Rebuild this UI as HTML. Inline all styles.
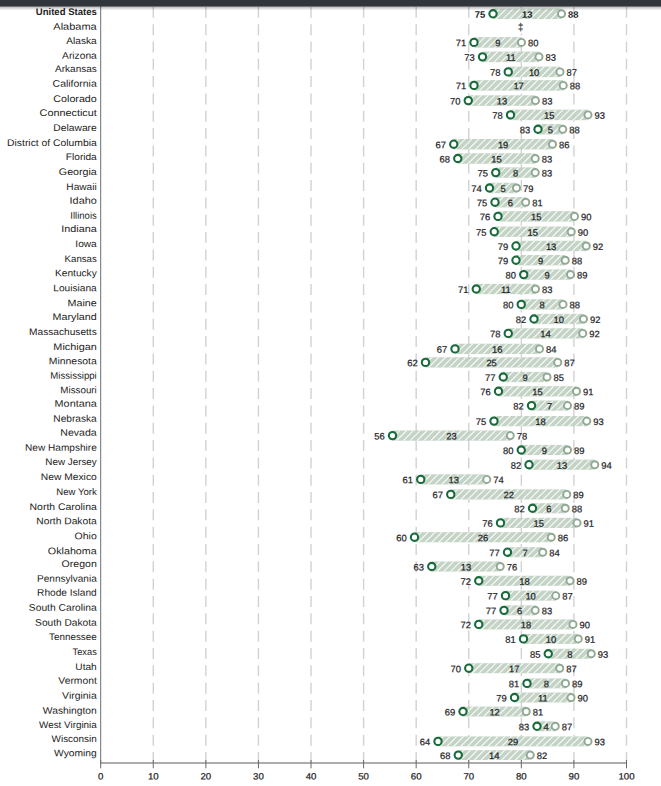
<!DOCTYPE html>
<html><head><meta charset="utf-8"><title>chart</title>
<style>
html,body{margin:0;padding:0;background:#fff;}
body{width:661px;height:786px;overflow:hidden;position:relative;font-family:"Liberation Sans",sans-serif;}
svg{position:absolute;left:0;top:0;display:block;}
text{font-family:"Liberation Sans",sans-serif;}
</style></head><body>
<svg width="661" height="786" viewBox="0 0 661 786">
<defs>
<linearGradient id="sh" x1="0" y1="0" x2="0" y2="1"><stop offset="0" stop-color="#000" stop-opacity="0.30"/><stop offset="1" stop-color="#000" stop-opacity="0"/></linearGradient>
</defs>
<rect width="661" height="786" fill="#fff"/>

<line x1="153.28" y1="6.8" x2="153.28" y2="762.6" stroke="#d2d2d2" stroke-width="1.4" stroke-dasharray="11 6.33"/>
<line x1="205.86" y1="6.8" x2="205.86" y2="762.6" stroke="#d2d2d2" stroke-width="1.4" stroke-dasharray="11 6.33"/>
<line x1="258.44" y1="6.8" x2="258.44" y2="762.6" stroke="#d2d2d2" stroke-width="1.4" stroke-dasharray="11 6.33"/>
<line x1="311.02" y1="6.8" x2="311.02" y2="762.6" stroke="#d2d2d2" stroke-width="1.4" stroke-dasharray="11 6.33"/>
<line x1="363.60" y1="6.8" x2="363.60" y2="762.6" stroke="#d2d2d2" stroke-width="1.4" stroke-dasharray="11 6.33"/>
<line x1="416.18" y1="6.8" x2="416.18" y2="762.6" stroke="#d2d2d2" stroke-width="1.4" stroke-dasharray="11 6.33"/>
<line x1="468.76" y1="6.8" x2="468.76" y2="762.6" stroke="#d2d2d2" stroke-width="1.4" stroke-dasharray="11 6.33"/>
<line x1="521.34" y1="6.8" x2="521.34" y2="762.6" stroke="#d2d2d2" stroke-width="1.4" stroke-dasharray="11 6.33"/>
<line x1="573.92" y1="6.8" x2="573.92" y2="762.6" stroke="#d2d2d2" stroke-width="1.4" stroke-dasharray="11 6.33"/>
<line x1="626.50" y1="6.8" x2="626.50" y2="762.6" stroke="#d2d2d2" stroke-width="1.4" stroke-dasharray="11 6.33"/>
<clipPath id="bc"><rect x="493.00" y="8.50" width="68.50" height="10.6"/><rect x="474.00" y="37.11" width="47.50" height="10.57"/><rect x="482.50" y="51.57" width="56.50" height="10.56"/><rect x="508.25" y="66.62" width="51.75" height="10.55"/><rect x="474.00" y="80.14" width="89.25" height="10.53"/><rect x="468.25" y="95.34" width="67.25" height="10.52"/><rect x="510.50" y="109.65" width="77.50" height="10.5"/><rect x="538.00" y="124.00" width="24.75" height="10.49"/><rect x="453.75" y="138.96" width="98.75" height="10.48"/><rect x="457.75" y="153.27" width="77.50" height="10.46"/><rect x="495.75" y="167.38" width="39.50" height="10.45"/><rect x="489.50" y="182.78" width="27.00" height="10.44"/><rect x="495.00" y="196.99" width="30.75" height="10.42"/><rect x="498.00" y="211.19" width="76.50" height="10.41"/><rect x="494.25" y="226.50" width="77.00" height="10.39"/><rect x="516.00" y="240.76" width="70.25" height="10.38"/><rect x="516.00" y="255.01" width="49.25" height="10.37"/><rect x="523.75" y="269.43" width="46.75" height="10.35"/><rect x="476.25" y="283.83" width="59.25" height="10.34"/><rect x="521.25" y="299.23" width="41.75" height="10.33"/><rect x="534.00" y="313.85" width="49.50" height="10.31"/><rect x="508.25" y="328.25" width="74.50" height="10.3"/><rect x="455.00" y="343.76" width="84.50" height="10.28"/><rect x="425.50" y="357.26" width="132.25" height="10.27"/><rect x="503.25" y="371.87" width="43.75" height="10.26"/><rect x="498.50" y="386.18" width="78.00" height="10.24"/><rect x="531.50" y="400.49" width="36.00" height="10.23"/><rect x="494.00" y="415.99" width="92.75" height="10.22"/><rect x="392.50" y="430.50" width="117.75" height="10.2"/><rect x="521.25" y="444.90" width="46.25" height="10.19"/><rect x="529.00" y="459.62" width="65.75" height="10.17"/><rect x="420.75" y="474.32" width="66.00" height="10.16"/><rect x="450.75" y="489.32" width="116.00" height="10.15"/><rect x="532.50" y="503.19" width="32.75" height="10.13"/><rect x="500.50" y="517.84" width="76.50" height="10.12"/><rect x="414.50" y="532.15" width="136.75" height="10.11"/><rect x="507.50" y="547.16" width="35.25" height="10.09"/><rect x="431.75" y="561.46" width="68.50" height="10.08"/><rect x="478.75" y="575.77" width="91.25" height="10.06"/><rect x="505.50" y="590.62" width="50.25" height="10.05"/><rect x="504.00" y="605.33" width="31.25" height="10.04"/><rect x="478.75" y="619.39" width="94.25" height="10.02"/><rect x="523.50" y="633.89" width="54.75" height="10.01"/><rect x="548.25" y="648.75" width="43.00" height="10.0"/><rect x="468.75" y="663.21" width="91.00" height="9.98"/><rect x="527.00" y="678.41" width="38.50" height="9.97"/><rect x="514.50" y="692.52" width="56.50" height="9.95"/><rect x="463.00" y="706.58" width="63.25" height="9.94"/><rect x="537.00" y="721.33" width="18.25" height="9.93"/><rect x="438.00" y="736.44" width="150.00" height="9.91"/><rect x="458.25" y="750.15" width="72.00" height="9.9"/></clipPath>
<g opacity="0.95">
<rect x="493.00" y="8.50" width="68.50" height="10.6" fill="#c1d1c3"/>
<rect x="474.00" y="37.11" width="47.50" height="10.57" fill="#c1d1c3"/>
<rect x="482.50" y="51.57" width="56.50" height="10.56" fill="#c1d1c3"/>
<rect x="508.25" y="66.62" width="51.75" height="10.55" fill="#c1d1c3"/>
<rect x="474.00" y="80.14" width="89.25" height="10.53" fill="#c1d1c3"/>
<rect x="468.25" y="95.34" width="67.25" height="10.52" fill="#c1d1c3"/>
<rect x="510.50" y="109.65" width="77.50" height="10.5" fill="#c1d1c3"/>
<rect x="538.00" y="124.00" width="24.75" height="10.49" fill="#c1d1c3"/>
<rect x="453.75" y="138.96" width="98.75" height="10.48" fill="#c1d1c3"/>
<rect x="457.75" y="153.27" width="77.50" height="10.46" fill="#c1d1c3"/>
<rect x="495.75" y="167.38" width="39.50" height="10.45" fill="#c1d1c3"/>
<rect x="489.50" y="182.78" width="27.00" height="10.44" fill="#c1d1c3"/>
<rect x="495.00" y="196.99" width="30.75" height="10.42" fill="#c1d1c3"/>
<rect x="498.00" y="211.19" width="76.50" height="10.41" fill="#c1d1c3"/>
<rect x="494.25" y="226.50" width="77.00" height="10.39" fill="#c1d1c3"/>
<rect x="516.00" y="240.76" width="70.25" height="10.38" fill="#c1d1c3"/>
<rect x="516.00" y="255.01" width="49.25" height="10.37" fill="#c1d1c3"/>
<rect x="523.75" y="269.43" width="46.75" height="10.35" fill="#c1d1c3"/>
<rect x="476.25" y="283.83" width="59.25" height="10.34" fill="#c1d1c3"/>
<rect x="521.25" y="299.23" width="41.75" height="10.33" fill="#c1d1c3"/>
<rect x="534.00" y="313.85" width="49.50" height="10.31" fill="#c1d1c3"/>
<rect x="508.25" y="328.25" width="74.50" height="10.3" fill="#c1d1c3"/>
<rect x="455.00" y="343.76" width="84.50" height="10.28" fill="#c1d1c3"/>
<rect x="425.50" y="357.26" width="132.25" height="10.27" fill="#c1d1c3"/>
<rect x="503.25" y="371.87" width="43.75" height="10.26" fill="#c1d1c3"/>
<rect x="498.50" y="386.18" width="78.00" height="10.24" fill="#c1d1c3"/>
<rect x="531.50" y="400.49" width="36.00" height="10.23" fill="#c1d1c3"/>
<rect x="494.00" y="415.99" width="92.75" height="10.22" fill="#c1d1c3"/>
<rect x="392.50" y="430.50" width="117.75" height="10.2" fill="#c1d1c3"/>
<rect x="521.25" y="444.90" width="46.25" height="10.19" fill="#c1d1c3"/>
<rect x="529.00" y="459.62" width="65.75" height="10.17" fill="#c1d1c3"/>
<rect x="420.75" y="474.32" width="66.00" height="10.16" fill="#c1d1c3"/>
<rect x="450.75" y="489.32" width="116.00" height="10.15" fill="#c1d1c3"/>
<rect x="532.50" y="503.19" width="32.75" height="10.13" fill="#c1d1c3"/>
<rect x="500.50" y="517.84" width="76.50" height="10.12" fill="#c1d1c3"/>
<rect x="414.50" y="532.15" width="136.75" height="10.11" fill="#c1d1c3"/>
<rect x="507.50" y="547.16" width="35.25" height="10.09" fill="#c1d1c3"/>
<rect x="431.75" y="561.46" width="68.50" height="10.08" fill="#c1d1c3"/>
<rect x="478.75" y="575.77" width="91.25" height="10.06" fill="#c1d1c3"/>
<rect x="505.50" y="590.62" width="50.25" height="10.05" fill="#c1d1c3"/>
<rect x="504.00" y="605.33" width="31.25" height="10.04" fill="#c1d1c3"/>
<rect x="478.75" y="619.39" width="94.25" height="10.02" fill="#c1d1c3"/>
<rect x="523.50" y="633.89" width="54.75" height="10.01" fill="#c1d1c3"/>
<rect x="548.25" y="648.75" width="43.00" height="10.0" fill="#c1d1c3"/>
<rect x="468.75" y="663.21" width="91.00" height="9.98" fill="#c1d1c3"/>
<rect x="527.00" y="678.41" width="38.50" height="9.97" fill="#c1d1c3"/>
<rect x="514.50" y="692.52" width="56.50" height="9.95" fill="#c1d1c3"/>
<rect x="463.00" y="706.58" width="63.25" height="9.94" fill="#c1d1c3"/>
<rect x="537.00" y="721.33" width="18.25" height="9.93" fill="#c1d1c3"/>
<rect x="438.00" y="736.44" width="150.00" height="9.91" fill="#c1d1c3"/>
<rect x="458.25" y="750.15" width="72.00" height="9.9" fill="#c1d1c3"/>
<path clip-path="url(#bc)" d="M385.00,0L-385.00,770M391.85,0L-378.15,770M398.70,0L-371.30,770M405.55,0L-364.45,770M412.40,0L-357.60,770M419.25,0L-350.75,770M426.10,0L-343.90,770M432.95,0L-337.05,770M439.80,0L-330.20,770M446.65,0L-323.35,770M453.50,0L-316.50,770M460.35,0L-309.65,770M467.20,0L-302.80,770M474.05,0L-295.95,770M480.90,0L-289.10,770M487.75,0L-282.25,770M494.60,0L-275.40,770M501.45,0L-268.55,770M508.30,0L-261.70,770M515.15,0L-254.85,770M522.00,0L-248.00,770M528.85,0L-241.15,770M535.70,0L-234.30,770M542.55,0L-227.45,770M549.40,0L-220.60,770M556.25,0L-213.75,770M563.10,0L-206.90,770M569.95,0L-200.05,770M576.80,0L-193.20,770M583.65,0L-186.35,770M590.50,0L-179.50,770M597.35,0L-172.65,770M604.20,0L-165.80,770M611.05,0L-158.95,770M617.90,0L-152.10,770M624.75,0L-145.25,770M631.60,0L-138.40,770M638.45,0L-131.55,770M645.30,0L-124.70,770M652.15,0L-117.85,770M659.00,0L-111.00,770M665.85,0L-104.15,770M672.70,0L-97.30,770M679.55,0L-90.45,770M686.40,0L-83.60,770M693.25,0L-76.75,770M700.10,0L-69.90,770M706.95,0L-63.05,770M713.80,0L-56.20,770M720.65,0L-49.35,770M727.50,0L-42.50,770M734.35,0L-35.65,770M741.20,0L-28.80,770M748.05,0L-21.95,770M754.90,0L-15.10,770M761.75,0L-8.25,770M768.60,0L-1.40,770M775.45,0L5.45,770M782.30,0L12.30,770M789.15,0L19.15,770M796.00,0L26.00,770M802.85,0L32.85,770M809.70,0L39.70,770M816.55,0L46.55,770M823.40,0L53.40,770M830.25,0L60.25,770M837.10,0L67.10,770M843.95,0L73.95,770M850.80,0L80.80,770M857.65,0L87.65,770M864.50,0L94.50,770M871.35,0L101.35,770M878.20,0L108.20,770M885.05,0L115.05,770M891.90,0L121.90,770M898.75,0L128.75,770M905.60,0L135.60,770M912.45,0L142.45,770M919.30,0L149.30,770M926.15,0L156.15,770M933.00,0L163.00,770M939.85,0L169.85,770M946.70,0L176.70,770M953.55,0L183.55,770M960.40,0L190.40,770M967.25,0L197.25,770M974.10,0L204.10,770M980.95,0L210.95,770M987.80,0L217.80,770M994.65,0L224.65,770M1001.50,0L231.50,770M1008.35,0L238.35,770M1015.20,0L245.20,770M1022.05,0L252.05,770M1028.90,0L258.90,770M1035.75,0L265.75,770M1042.60,0L272.60,770M1049.45,0L279.45,770M1056.30,0L286.30,770M1063.15,0L293.15,770M1070.00,0L300.00,770M1076.85,0L306.85,770M1083.70,0L313.70,770M1090.55,0L320.55,770M1097.40,0L327.40,770M1104.25,0L334.25,770M1111.10,0L341.10,770M1117.95,0L347.95,770M1124.80,0L354.80,770M1131.65,0L361.65,770M1138.50,0L368.50,770M1145.35,0L375.35,770M1152.20,0L382.20,770M1159.05,0L389.05,770M1165.90,0L395.90,770M1172.75,0L402.75,770M1179.60,0L409.60,770M1186.45,0L416.45,770M1193.30,0L423.30,770M1200.15,0L430.15,770M1207.00,0L437.00,770M1213.85,0L443.85,770M1220.70,0L450.70,770M1227.55,0L457.55,770M1234.40,0L464.40,770M1241.25,0L471.25,770M1248.10,0L478.10,770M1254.95,0L484.95,770M1261.80,0L491.80,770M1268.65,0L498.65,770M1275.50,0L505.50,770M1282.35,0L512.35,770M1289.20,0L519.20,770M1296.05,0L526.05,770M1302.90,0L532.90,770M1309.75,0L539.75,770M1316.60,0L546.60,770M1323.45,0L553.45,770M1330.30,0L560.30,770M1337.15,0L567.15,770M1344.00,0L574.00,770M1350.85,0L580.85,770M1357.70,0L587.70,770M1364.55,0L594.55,770" stroke="#f8fbf8" stroke-width="1.15" fill="none"/>
</g>
<text transform="translate(35.85,15.00) rotate(0.05)" font-size="9.6" fill="#222" textLength="60.90" lengthAdjust="spacingAndGlyphs" font-weight="bold">United States</text>
<circle cx="561.50" cy="13.80" r="3.55" fill="#fdfefd" stroke="#90a994" stroke-width="1.95"/>
<circle cx="493.00" cy="13.80" r="3.65" fill="#fff" stroke="#176a3a" stroke-width="2.1"/>
<text transform="translate(485.10,17.75) scale(1.0,1) rotate(0.05)" font-size="9.4" text-anchor="end" fill="#1d1d26" stroke="#1d1d26" stroke-width="0" font-weight="bold">75</text>
<text transform="translate(568.10,17.75) scale(1.0,1) rotate(0.05)" font-size="9.4" text-anchor="start" fill="#1d1d26" stroke="#1d1d26" stroke-width="0" font-weight="bold">88</text>
<text transform="translate(527.25,17.75) scale(1.0,1) rotate(0.05)" font-size="9.4" text-anchor="middle" fill="#1d1d26" stroke="#1d1d26" stroke-width="0" font-weight="bold">13</text>
<text transform="translate(53.35,29.70) rotate(0.05)" font-size="9.6" fill="#222" textLength="43.40" lengthAdjust="spacingAndGlyphs">Alabama</text>
<rect x="518.34" y="21" width="6" height="12.6" fill="#fff"/>
<text transform="translate(520.74,30.40) scale(0.9,1) rotate(0.05)" font-size="10.5" text-anchor="middle" fill="#3a3a3a" stroke="#3a3a3a" stroke-width="0.22">‡</text>
<text transform="translate(66.35,44.00) rotate(0.05)" font-size="9.6" fill="#222" textLength="30.40" lengthAdjust="spacingAndGlyphs">Alaska</text>
<circle cx="521.50" cy="42.40" r="3.55" fill="#fdfefd" stroke="#90a994" stroke-width="1.95"/>
<circle cx="474.00" cy="42.40" r="3.65" fill="#fff" stroke="#176a3a" stroke-width="2.1"/>
<text transform="translate(466.10,46.35) scale(1.0,1) rotate(0.05)" font-size="9.4" text-anchor="end" fill="#1d1d26" stroke="#1d1d26" stroke-width="0.22">71</text>
<text transform="translate(528.10,46.35) scale(1.0,1) rotate(0.05)" font-size="9.4" text-anchor="start" fill="#1d1d26" stroke="#1d1d26" stroke-width="0.22">80</text>
<text transform="translate(497.75,46.35) scale(1.0,1) rotate(0.05)" font-size="9.4" text-anchor="middle" fill="#1d1d26" stroke="#1d1d26" stroke-width="0.22">9</text>
<text transform="translate(62.10,58.70) rotate(0.05)" font-size="9.6" fill="#222" textLength="34.65" lengthAdjust="spacingAndGlyphs">Arizona</text>
<circle cx="539.00" cy="56.85" r="3.55" fill="#fdfefd" stroke="#90a994" stroke-width="1.95"/>
<circle cx="482.50" cy="56.85" r="3.65" fill="#fff" stroke="#176a3a" stroke-width="2.1"/>
<text transform="translate(474.60,60.80) scale(1.0,1) rotate(0.05)" font-size="9.4" text-anchor="end" fill="#1d1d26" stroke="#1d1d26" stroke-width="0.22">73</text>
<text transform="translate(545.60,60.80) scale(1.0,1) rotate(0.05)" font-size="9.4" text-anchor="start" fill="#1d1d26" stroke="#1d1d26" stroke-width="0.22">83</text>
<text transform="translate(510.75,60.80) scale(1.0,1) rotate(0.05)" font-size="9.4" text-anchor="middle" fill="#1d1d26" stroke="#1d1d26" stroke-width="0.22">11</text>
<text transform="translate(55.10,72.00) rotate(0.05)" font-size="9.6" fill="#222" textLength="41.65" lengthAdjust="spacingAndGlyphs">Arkansas</text>
<circle cx="560.00" cy="71.90" r="3.55" fill="#fdfefd" stroke="#90a994" stroke-width="1.95"/>
<circle cx="508.25" cy="71.90" r="3.65" fill="#fff" stroke="#176a3a" stroke-width="2.1"/>
<text transform="translate(500.35,75.85) scale(1.0,1) rotate(0.05)" font-size="9.4" text-anchor="end" fill="#1d1d26" stroke="#1d1d26" stroke-width="0.22">78</text>
<text transform="translate(566.60,75.85) scale(1.0,1) rotate(0.05)" font-size="9.4" text-anchor="start" fill="#1d1d26" stroke="#1d1d26" stroke-width="0.22">87</text>
<text transform="translate(534.12,75.85) scale(1.0,1) rotate(0.05)" font-size="9.4" text-anchor="middle" fill="#1d1d26" stroke="#1d1d26" stroke-width="0.22">10</text>
<text transform="translate(52.60,86.70) rotate(0.05)" font-size="9.6" fill="#222" textLength="44.15" lengthAdjust="spacingAndGlyphs">California</text>
<circle cx="563.25" cy="85.40" r="3.55" fill="#fdfefd" stroke="#90a994" stroke-width="1.95"/>
<circle cx="474.00" cy="85.40" r="3.65" fill="#fff" stroke="#176a3a" stroke-width="2.1"/>
<text transform="translate(466.10,89.35) scale(1.0,1) rotate(0.05)" font-size="9.4" text-anchor="end" fill="#1d1d26" stroke="#1d1d26" stroke-width="0.22">71</text>
<text transform="translate(569.85,89.35) scale(1.0,1) rotate(0.05)" font-size="9.4" text-anchor="start" fill="#1d1d26" stroke="#1d1d26" stroke-width="0.22">88</text>
<text transform="translate(518.62,89.35) scale(1.0,1) rotate(0.05)" font-size="9.4" text-anchor="middle" fill="#1d1d26" stroke="#1d1d26" stroke-width="0.22">17</text>
<text transform="translate(53.35,102.00) rotate(0.05)" font-size="9.6" fill="#222" textLength="43.40" lengthAdjust="spacingAndGlyphs">Colorado</text>
<circle cx="535.50" cy="100.60" r="3.55" fill="#fdfefd" stroke="#90a994" stroke-width="1.95"/>
<circle cx="468.25" cy="100.60" r="3.65" fill="#fff" stroke="#176a3a" stroke-width="2.1"/>
<text transform="translate(460.35,104.55) scale(1.0,1) rotate(0.05)" font-size="9.4" text-anchor="end" fill="#1d1d26" stroke="#1d1d26" stroke-width="0.22">70</text>
<text transform="translate(542.10,104.55) scale(1.0,1) rotate(0.05)" font-size="9.4" text-anchor="start" fill="#1d1d26" stroke="#1d1d26" stroke-width="0.22">83</text>
<text transform="translate(501.88,104.55) scale(1.0,1) rotate(0.05)" font-size="9.4" text-anchor="middle" fill="#1d1d26" stroke="#1d1d26" stroke-width="0.22">13</text>
<text transform="translate(39.60,116.00) rotate(0.05)" font-size="9.6" fill="#222" textLength="57.15" lengthAdjust="spacingAndGlyphs">Connecticut</text>
<circle cx="588.00" cy="114.90" r="3.55" fill="#fdfefd" stroke="#90a994" stroke-width="1.95"/>
<circle cx="510.50" cy="114.90" r="3.65" fill="#fff" stroke="#176a3a" stroke-width="2.1"/>
<text transform="translate(502.60,118.85) scale(1.0,1) rotate(0.05)" font-size="9.4" text-anchor="end" fill="#1d1d26" stroke="#1d1d26" stroke-width="0.22">78</text>
<text transform="translate(594.60,118.85) scale(1.0,1) rotate(0.05)" font-size="9.4" text-anchor="start" fill="#1d1d26" stroke="#1d1d26" stroke-width="0.22">93</text>
<text transform="translate(549.25,118.85) scale(1.0,1) rotate(0.05)" font-size="9.4" text-anchor="middle" fill="#1d1d26" stroke="#1d1d26" stroke-width="0.22">15</text>
<text transform="translate(53.35,131.00) rotate(0.05)" font-size="9.6" fill="#222" textLength="43.40" lengthAdjust="spacingAndGlyphs">Delaware</text>
<circle cx="562.75" cy="129.25" r="3.55" fill="#fdfefd" stroke="#90a994" stroke-width="1.95"/>
<circle cx="538.00" cy="129.25" r="3.65" fill="#fff" stroke="#176a3a" stroke-width="2.1"/>
<text transform="translate(530.10,133.20) scale(1.0,1) rotate(0.05)" font-size="9.4" text-anchor="end" fill="#1d1d26" stroke="#1d1d26" stroke-width="0.22">83</text>
<text transform="translate(569.35,133.20) scale(1.0,1) rotate(0.05)" font-size="9.4" text-anchor="start" fill="#1d1d26" stroke="#1d1d26" stroke-width="0.22">88</text>
<text transform="translate(550.38,133.20) scale(1.0,1) rotate(0.05)" font-size="9.4" text-anchor="middle" fill="#1d1d26" stroke="#1d1d26" stroke-width="0.22">5</text>
<text transform="translate(7.10,146.00) rotate(0.05)" font-size="9.6" fill="#222" textLength="89.65" lengthAdjust="spacingAndGlyphs">District of Columbia</text>
<circle cx="552.50" cy="144.20" r="3.55" fill="#fdfefd" stroke="#90a994" stroke-width="1.95"/>
<circle cx="453.75" cy="144.20" r="3.65" fill="#fff" stroke="#176a3a" stroke-width="2.1"/>
<text transform="translate(445.85,148.15) scale(1.0,1) rotate(0.05)" font-size="9.4" text-anchor="end" fill="#1d1d26" stroke="#1d1d26" stroke-width="0.22">67</text>
<text transform="translate(559.10,148.15) scale(1.0,1) rotate(0.05)" font-size="9.4" text-anchor="start" fill="#1d1d26" stroke="#1d1d26" stroke-width="0.22">86</text>
<text transform="translate(503.12,148.15) scale(1.0,1) rotate(0.05)" font-size="9.4" text-anchor="middle" fill="#1d1d26" stroke="#1d1d26" stroke-width="0.22">19</text>
<text transform="translate(65.85,160.00) rotate(0.05)" font-size="9.6" fill="#222" textLength="30.90" lengthAdjust="spacingAndGlyphs">Florida</text>
<circle cx="535.25" cy="158.50" r="3.55" fill="#fdfefd" stroke="#90a994" stroke-width="1.95"/>
<circle cx="457.75" cy="158.50" r="3.65" fill="#fff" stroke="#176a3a" stroke-width="2.1"/>
<text transform="translate(449.85,162.45) scale(1.0,1) rotate(0.05)" font-size="9.4" text-anchor="end" fill="#1d1d26" stroke="#1d1d26" stroke-width="0.22">68</text>
<text transform="translate(541.85,162.45) scale(1.0,1) rotate(0.05)" font-size="9.4" text-anchor="start" fill="#1d1d26" stroke="#1d1d26" stroke-width="0.22">83</text>
<text transform="translate(496.50,162.45) scale(1.0,1) rotate(0.05)" font-size="9.4" text-anchor="middle" fill="#1d1d26" stroke="#1d1d26" stroke-width="0.22">15</text>
<text transform="translate(58.85,175.00) rotate(0.05)" font-size="9.6" fill="#222" textLength="37.90" lengthAdjust="spacingAndGlyphs">Georgia</text>
<circle cx="535.25" cy="172.60" r="3.55" fill="#fdfefd" stroke="#90a994" stroke-width="1.95"/>
<circle cx="495.75" cy="172.60" r="3.65" fill="#fff" stroke="#176a3a" stroke-width="2.1"/>
<text transform="translate(487.85,176.55) scale(1.0,1) rotate(0.05)" font-size="9.4" text-anchor="end" fill="#1d1d26" stroke="#1d1d26" stroke-width="0.22">75</text>
<text transform="translate(541.85,176.55) scale(1.0,1) rotate(0.05)" font-size="9.4" text-anchor="start" fill="#1d1d26" stroke="#1d1d26" stroke-width="0.22">83</text>
<text transform="translate(515.50,176.55) scale(1.0,1) rotate(0.05)" font-size="9.4" text-anchor="middle" fill="#1d1d26" stroke="#1d1d26" stroke-width="0.22">8</text>
<text transform="translate(66.35,190.00) rotate(0.05)" font-size="9.6" fill="#222" textLength="30.40" lengthAdjust="spacingAndGlyphs">Hawaii</text>
<circle cx="516.50" cy="188.00" r="3.55" fill="#fdfefd" stroke="#90a994" stroke-width="1.95"/>
<circle cx="489.50" cy="188.00" r="3.65" fill="#fff" stroke="#176a3a" stroke-width="2.1"/>
<text transform="translate(481.60,191.95) scale(1.0,1) rotate(0.05)" font-size="9.4" text-anchor="end" fill="#1d1d26" stroke="#1d1d26" stroke-width="0.22">74</text>
<text transform="translate(523.10,191.95) scale(1.0,1) rotate(0.05)" font-size="9.4" text-anchor="start" fill="#1d1d26" stroke="#1d1d26" stroke-width="0.22">79</text>
<text transform="translate(503.00,191.95) scale(1.0,1) rotate(0.05)" font-size="9.4" text-anchor="middle" fill="#1d1d26" stroke="#1d1d26" stroke-width="0.22">5</text>
<text transform="translate(69.60,203.75) rotate(0.05)" font-size="9.6" fill="#222" textLength="27.15" lengthAdjust="spacingAndGlyphs">Idaho</text>
<circle cx="525.75" cy="202.20" r="3.55" fill="#fdfefd" stroke="#90a994" stroke-width="1.95"/>
<circle cx="495.00" cy="202.20" r="3.65" fill="#fff" stroke="#176a3a" stroke-width="2.1"/>
<text transform="translate(487.10,206.15) scale(1.0,1) rotate(0.05)" font-size="9.4" text-anchor="end" fill="#1d1d26" stroke="#1d1d26" stroke-width="0.22">75</text>
<text transform="translate(532.35,206.15) scale(1.0,1) rotate(0.05)" font-size="9.4" text-anchor="start" fill="#1d1d26" stroke="#1d1d26" stroke-width="0.22">81</text>
<text transform="translate(510.38,206.15) scale(1.0,1) rotate(0.05)" font-size="9.4" text-anchor="middle" fill="#1d1d26" stroke="#1d1d26" stroke-width="0.22">6</text>
<text transform="translate(70.35,218.75) rotate(0.05)" font-size="9.6" fill="#222" textLength="26.40" lengthAdjust="spacingAndGlyphs">Illinois</text>
<circle cx="574.50" cy="216.40" r="3.55" fill="#fdfefd" stroke="#90a994" stroke-width="1.95"/>
<circle cx="498.00" cy="216.40" r="3.65" fill="#fff" stroke="#176a3a" stroke-width="2.1"/>
<text transform="translate(490.10,220.35) scale(1.0,1) rotate(0.05)" font-size="9.4" text-anchor="end" fill="#1d1d26" stroke="#1d1d26" stroke-width="0.22">76</text>
<text transform="translate(581.10,220.35) scale(1.0,1) rotate(0.05)" font-size="9.4" text-anchor="start" fill="#1d1d26" stroke="#1d1d26" stroke-width="0.22">90</text>
<text transform="translate(536.25,220.35) scale(1.0,1) rotate(0.05)" font-size="9.4" text-anchor="middle" fill="#1d1d26" stroke="#1d1d26" stroke-width="0.22">15</text>
<text transform="translate(61.35,232.00) rotate(0.05)" font-size="9.6" fill="#222" textLength="35.40" lengthAdjust="spacingAndGlyphs">Indiana</text>
<circle cx="571.25" cy="231.70" r="3.55" fill="#fdfefd" stroke="#90a994" stroke-width="1.95"/>
<circle cx="494.25" cy="231.70" r="3.65" fill="#fff" stroke="#176a3a" stroke-width="2.1"/>
<text transform="translate(486.35,235.65) scale(1.0,1) rotate(0.05)" font-size="9.4" text-anchor="end" fill="#1d1d26" stroke="#1d1d26" stroke-width="0.22">75</text>
<text transform="translate(577.85,235.65) scale(1.0,1) rotate(0.05)" font-size="9.4" text-anchor="start" fill="#1d1d26" stroke="#1d1d26" stroke-width="0.22">90</text>
<text transform="translate(532.75,235.65) scale(1.0,1) rotate(0.05)" font-size="9.4" text-anchor="middle" fill="#1d1d26" stroke="#1d1d26" stroke-width="0.22">15</text>
<text transform="translate(75.35,247.00) rotate(0.05)" font-size="9.6" fill="#222" textLength="21.40" lengthAdjust="spacingAndGlyphs">Iowa</text>
<circle cx="586.25" cy="245.95" r="3.55" fill="#fdfefd" stroke="#90a994" stroke-width="1.95"/>
<circle cx="516.00" cy="245.95" r="3.65" fill="#fff" stroke="#176a3a" stroke-width="2.1"/>
<text transform="translate(508.10,249.90) scale(1.0,1) rotate(0.05)" font-size="9.4" text-anchor="end" fill="#1d1d26" stroke="#1d1d26" stroke-width="0.22">79</text>
<text transform="translate(592.85,249.90) scale(1.0,1) rotate(0.05)" font-size="9.4" text-anchor="start" fill="#1d1d26" stroke="#1d1d26" stroke-width="0.22">92</text>
<text transform="translate(551.12,249.90) scale(1.0,1) rotate(0.05)" font-size="9.4" text-anchor="middle" fill="#1d1d26" stroke="#1d1d26" stroke-width="0.22">13</text>
<text transform="translate(64.60,262.00) rotate(0.05)" font-size="9.6" fill="#222" textLength="32.15" lengthAdjust="spacingAndGlyphs">Kansas</text>
<circle cx="565.25" cy="260.20" r="3.55" fill="#fdfefd" stroke="#90a994" stroke-width="1.95"/>
<circle cx="516.00" cy="260.20" r="3.65" fill="#fff" stroke="#176a3a" stroke-width="2.1"/>
<text transform="translate(508.10,264.15) scale(1.0,1) rotate(0.05)" font-size="9.4" text-anchor="end" fill="#1d1d26" stroke="#1d1d26" stroke-width="0.22">79</text>
<text transform="translate(571.85,264.15) scale(1.0,1) rotate(0.05)" font-size="9.4" text-anchor="start" fill="#1d1d26" stroke="#1d1d26" stroke-width="0.22">88</text>
<text transform="translate(540.62,264.15) scale(1.0,1) rotate(0.05)" font-size="9.4" text-anchor="middle" fill="#1d1d26" stroke="#1d1d26" stroke-width="0.22">9</text>
<text transform="translate(55.10,276.25) rotate(0.05)" font-size="9.6" fill="#222" textLength="41.65" lengthAdjust="spacingAndGlyphs">Kentucky</text>
<circle cx="570.50" cy="274.60" r="3.55" fill="#fdfefd" stroke="#90a994" stroke-width="1.95"/>
<circle cx="523.75" cy="274.60" r="3.65" fill="#fff" stroke="#176a3a" stroke-width="2.1"/>
<text transform="translate(515.85,278.55) scale(1.0,1) rotate(0.05)" font-size="9.4" text-anchor="end" fill="#1d1d26" stroke="#1d1d26" stroke-width="0.22">80</text>
<text transform="translate(577.10,278.55) scale(1.0,1) rotate(0.05)" font-size="9.4" text-anchor="start" fill="#1d1d26" stroke="#1d1d26" stroke-width="0.22">89</text>
<text transform="translate(547.12,278.55) scale(1.0,1) rotate(0.05)" font-size="9.4" text-anchor="middle" fill="#1d1d26" stroke="#1d1d26" stroke-width="0.22">9</text>
<text transform="translate(53.35,291.25) rotate(0.05)" font-size="9.6" fill="#222" textLength="43.40" lengthAdjust="spacingAndGlyphs">Louisiana</text>
<circle cx="535.50" cy="289.00" r="3.55" fill="#fdfefd" stroke="#90a994" stroke-width="1.95"/>
<circle cx="476.25" cy="289.00" r="3.65" fill="#fff" stroke="#176a3a" stroke-width="2.1"/>
<text transform="translate(468.35,292.95) scale(1.0,1) rotate(0.05)" font-size="9.4" text-anchor="end" fill="#1d1d26" stroke="#1d1d26" stroke-width="0.22">71</text>
<text transform="translate(542.10,292.95) scale(1.0,1) rotate(0.05)" font-size="9.4" text-anchor="start" fill="#1d1d26" stroke="#1d1d26" stroke-width="0.22">83</text>
<text transform="translate(505.88,292.95) scale(1.0,1) rotate(0.05)" font-size="9.4" text-anchor="middle" fill="#1d1d26" stroke="#1d1d26" stroke-width="0.22">11</text>
<text transform="translate(67.60,306.25) rotate(0.05)" font-size="9.6" fill="#222" textLength="29.15" lengthAdjust="spacingAndGlyphs">Maine</text>
<circle cx="563.00" cy="304.40" r="3.55" fill="#fdfefd" stroke="#90a994" stroke-width="1.95"/>
<circle cx="521.25" cy="304.40" r="3.65" fill="#fff" stroke="#176a3a" stroke-width="2.1"/>
<text transform="translate(513.35,308.35) scale(1.0,1) rotate(0.05)" font-size="9.4" text-anchor="end" fill="#1d1d26" stroke="#1d1d26" stroke-width="0.22">80</text>
<text transform="translate(569.60,308.35) scale(1.0,1) rotate(0.05)" font-size="9.4" text-anchor="start" fill="#1d1d26" stroke="#1d1d26" stroke-width="0.22">88</text>
<text transform="translate(542.12,308.35) scale(1.0,1) rotate(0.05)" font-size="9.4" text-anchor="middle" fill="#1d1d26" stroke="#1d1d26" stroke-width="0.22">8</text>
<text transform="translate(52.60,320.00) rotate(0.05)" font-size="9.6" fill="#222" textLength="44.15" lengthAdjust="spacingAndGlyphs">Maryland</text>
<circle cx="583.50" cy="319.00" r="3.55" fill="#fdfefd" stroke="#90a994" stroke-width="1.95"/>
<circle cx="534.00" cy="319.00" r="3.65" fill="#fff" stroke="#176a3a" stroke-width="2.1"/>
<text transform="translate(526.10,322.95) scale(1.0,1) rotate(0.05)" font-size="9.4" text-anchor="end" fill="#1d1d26" stroke="#1d1d26" stroke-width="0.22">82</text>
<text transform="translate(590.10,322.95) scale(1.0,1) rotate(0.05)" font-size="9.4" text-anchor="start" fill="#1d1d26" stroke="#1d1d26" stroke-width="0.22">92</text>
<text transform="translate(558.75,322.95) scale(1.0,1) rotate(0.05)" font-size="9.4" text-anchor="middle" fill="#1d1d26" stroke="#1d1d26" stroke-width="0.22">10</text>
<text transform="translate(29.10,335.00) rotate(0.05)" font-size="9.6" fill="#222" textLength="67.65" lengthAdjust="spacingAndGlyphs">Massachusetts</text>
<circle cx="582.75" cy="333.40" r="3.55" fill="#fdfefd" stroke="#90a994" stroke-width="1.95"/>
<circle cx="508.25" cy="333.40" r="3.65" fill="#fff" stroke="#176a3a" stroke-width="2.1"/>
<text transform="translate(500.35,337.35) scale(1.0,1) rotate(0.05)" font-size="9.4" text-anchor="end" fill="#1d1d26" stroke="#1d1d26" stroke-width="0.22">78</text>
<text transform="translate(589.35,337.35) scale(1.0,1) rotate(0.05)" font-size="9.4" text-anchor="start" fill="#1d1d26" stroke="#1d1d26" stroke-width="0.22">92</text>
<text transform="translate(545.50,337.35) scale(1.0,1) rotate(0.05)" font-size="9.4" text-anchor="middle" fill="#1d1d26" stroke="#1d1d26" stroke-width="0.22">14</text>
<text transform="translate(53.35,350.00) rotate(0.05)" font-size="9.6" fill="#222" textLength="43.40" lengthAdjust="spacingAndGlyphs">Michigan</text>
<circle cx="539.50" cy="348.90" r="3.55" fill="#fdfefd" stroke="#90a994" stroke-width="1.95"/>
<circle cx="455.00" cy="348.90" r="3.65" fill="#fff" stroke="#176a3a" stroke-width="2.1"/>
<text transform="translate(447.10,352.85) scale(1.0,1) rotate(0.05)" font-size="9.4" text-anchor="end" fill="#1d1d26" stroke="#1d1d26" stroke-width="0.22">67</text>
<text transform="translate(546.10,352.85) scale(1.0,1) rotate(0.05)" font-size="9.4" text-anchor="start" fill="#1d1d26" stroke="#1d1d26" stroke-width="0.22">84</text>
<text transform="translate(497.25,352.85) scale(1.0,1) rotate(0.05)" font-size="9.4" text-anchor="middle" fill="#1d1d26" stroke="#1d1d26" stroke-width="0.22">16</text>
<text transform="translate(48.85,364.25) rotate(0.05)" font-size="9.6" fill="#222" textLength="47.90" lengthAdjust="spacingAndGlyphs">Minnesota</text>
<circle cx="557.75" cy="362.40" r="3.55" fill="#fdfefd" stroke="#90a994" stroke-width="1.95"/>
<circle cx="425.50" cy="362.40" r="3.65" fill="#fff" stroke="#176a3a" stroke-width="2.1"/>
<text transform="translate(417.60,366.35) scale(1.0,1) rotate(0.05)" font-size="9.4" text-anchor="end" fill="#1d1d26" stroke="#1d1d26" stroke-width="0.22">62</text>
<text transform="translate(564.35,366.35) scale(1.0,1) rotate(0.05)" font-size="9.4" text-anchor="start" fill="#1d1d26" stroke="#1d1d26" stroke-width="0.22">87</text>
<text transform="translate(491.62,366.35) scale(1.0,1) rotate(0.05)" font-size="9.4" text-anchor="middle" fill="#1d1d26" stroke="#1d1d26" stroke-width="0.22">25</text>
<text transform="translate(50.35,378.75) rotate(0.05)" font-size="9.6" fill="#222" textLength="46.40" lengthAdjust="spacingAndGlyphs">Mississippi</text>
<circle cx="547.00" cy="377.00" r="3.55" fill="#fdfefd" stroke="#90a994" stroke-width="1.95"/>
<circle cx="503.25" cy="377.00" r="3.65" fill="#fff" stroke="#176a3a" stroke-width="2.1"/>
<text transform="translate(495.35,380.95) scale(1.0,1) rotate(0.05)" font-size="9.4" text-anchor="end" fill="#1d1d26" stroke="#1d1d26" stroke-width="0.22">77</text>
<text transform="translate(553.60,380.95) scale(1.0,1) rotate(0.05)" font-size="9.4" text-anchor="start" fill="#1d1d26" stroke="#1d1d26" stroke-width="0.22">85</text>
<text transform="translate(525.12,380.95) scale(1.0,1) rotate(0.05)" font-size="9.4" text-anchor="middle" fill="#1d1d26" stroke="#1d1d26" stroke-width="0.22">9</text>
<text transform="translate(60.35,393.25) rotate(0.05)" font-size="9.6" fill="#222" textLength="36.40" lengthAdjust="spacingAndGlyphs">Missouri</text>
<circle cx="576.50" cy="391.30" r="3.55" fill="#fdfefd" stroke="#90a994" stroke-width="1.95"/>
<circle cx="498.50" cy="391.30" r="3.65" fill="#fff" stroke="#176a3a" stroke-width="2.1"/>
<text transform="translate(490.60,395.25) scale(1.0,1) rotate(0.05)" font-size="9.4" text-anchor="end" fill="#1d1d26" stroke="#1d1d26" stroke-width="0.22">76</text>
<text transform="translate(583.10,395.25) scale(1.0,1) rotate(0.05)" font-size="9.4" text-anchor="start" fill="#1d1d26" stroke="#1d1d26" stroke-width="0.22">91</text>
<text transform="translate(537.50,395.25) scale(1.0,1) rotate(0.05)" font-size="9.4" text-anchor="middle" fill="#1d1d26" stroke="#1d1d26" stroke-width="0.22">15</text>
<text transform="translate(54.60,406.75) rotate(0.05)" font-size="9.6" fill="#222" textLength="42.15" lengthAdjust="spacingAndGlyphs">Montana</text>
<circle cx="567.50" cy="405.60" r="3.55" fill="#fdfefd" stroke="#90a994" stroke-width="1.95"/>
<circle cx="531.50" cy="405.60" r="3.65" fill="#fff" stroke="#176a3a" stroke-width="2.1"/>
<text transform="translate(523.60,409.55) scale(1.0,1) rotate(0.05)" font-size="9.4" text-anchor="end" fill="#1d1d26" stroke="#1d1d26" stroke-width="0.22">82</text>
<text transform="translate(574.10,409.55) scale(1.0,1) rotate(0.05)" font-size="9.4" text-anchor="start" fill="#1d1d26" stroke="#1d1d26" stroke-width="0.22">89</text>
<text transform="translate(549.50,409.55) scale(1.0,1) rotate(0.05)" font-size="9.4" text-anchor="middle" fill="#1d1d26" stroke="#1d1d26" stroke-width="0.22">7</text>
<text transform="translate(53.35,421.75) rotate(0.05)" font-size="9.6" fill="#222" textLength="43.40" lengthAdjust="spacingAndGlyphs">Nebraska</text>
<circle cx="586.75" cy="421.10" r="3.55" fill="#fdfefd" stroke="#90a994" stroke-width="1.95"/>
<circle cx="494.00" cy="421.10" r="3.65" fill="#fff" stroke="#176a3a" stroke-width="2.1"/>
<text transform="translate(486.10,425.05) scale(1.0,1) rotate(0.05)" font-size="9.4" text-anchor="end" fill="#1d1d26" stroke="#1d1d26" stroke-width="0.22">75</text>
<text transform="translate(593.35,425.05) scale(1.0,1) rotate(0.05)" font-size="9.4" text-anchor="start" fill="#1d1d26" stroke="#1d1d26" stroke-width="0.22">93</text>
<text transform="translate(540.38,425.05) scale(1.0,1) rotate(0.05)" font-size="9.4" text-anchor="middle" fill="#1d1d26" stroke="#1d1d26" stroke-width="0.22">18</text>
<text transform="translate(60.35,435.75) rotate(0.05)" font-size="9.6" fill="#222" textLength="36.40" lengthAdjust="spacingAndGlyphs">Nevada</text>
<circle cx="510.25" cy="435.60" r="3.55" fill="#fdfefd" stroke="#90a994" stroke-width="1.95"/>
<circle cx="392.50" cy="435.60" r="3.65" fill="#fff" stroke="#176a3a" stroke-width="2.1"/>
<text transform="translate(384.60,439.55) scale(1.0,1) rotate(0.05)" font-size="9.4" text-anchor="end" fill="#1d1d26" stroke="#1d1d26" stroke-width="0.22">56</text>
<text transform="translate(516.85,439.55) scale(1.0,1) rotate(0.05)" font-size="9.4" text-anchor="start" fill="#1d1d26" stroke="#1d1d26" stroke-width="0.22">78</text>
<text transform="translate(451.38,439.55) scale(1.0,1) rotate(0.05)" font-size="9.4" text-anchor="middle" fill="#1d1d26" stroke="#1d1d26" stroke-width="0.22">23</text>
<text transform="translate(25.10,450.75) rotate(0.05)" font-size="9.6" fill="#222" textLength="71.65" lengthAdjust="spacingAndGlyphs">New Hampshire</text>
<circle cx="567.50" cy="450.00" r="3.55" fill="#fdfefd" stroke="#90a994" stroke-width="1.95"/>
<circle cx="521.25" cy="450.00" r="3.65" fill="#fff" stroke="#176a3a" stroke-width="2.1"/>
<text transform="translate(513.35,453.95) scale(1.0,1) rotate(0.05)" font-size="9.4" text-anchor="end" fill="#1d1d26" stroke="#1d1d26" stroke-width="0.22">80</text>
<text transform="translate(574.10,453.95) scale(1.0,1) rotate(0.05)" font-size="9.4" text-anchor="start" fill="#1d1d26" stroke="#1d1d26" stroke-width="0.22">89</text>
<text transform="translate(544.38,453.95) scale(1.0,1) rotate(0.05)" font-size="9.4" text-anchor="middle" fill="#1d1d26" stroke="#1d1d26" stroke-width="0.22">9</text>
<text transform="translate(45.35,465.00) rotate(0.05)" font-size="9.6" fill="#222" textLength="51.40" lengthAdjust="spacingAndGlyphs">New Jersey</text>
<circle cx="594.75" cy="464.70" r="3.55" fill="#fdfefd" stroke="#90a994" stroke-width="1.95"/>
<circle cx="529.00" cy="464.70" r="3.65" fill="#fff" stroke="#176a3a" stroke-width="2.1"/>
<text transform="translate(521.10,468.65) scale(1.0,1) rotate(0.05)" font-size="9.4" text-anchor="end" fill="#1d1d26" stroke="#1d1d26" stroke-width="0.22">82</text>
<text transform="translate(601.35,468.65) scale(1.0,1) rotate(0.05)" font-size="9.4" text-anchor="start" fill="#1d1d26" stroke="#1d1d26" stroke-width="0.22">94</text>
<text transform="translate(561.88,468.65) scale(1.0,1) rotate(0.05)" font-size="9.4" text-anchor="middle" fill="#1d1d26" stroke="#1d1d26" stroke-width="0.22">13</text>
<text transform="translate(40.85,480.00) rotate(0.05)" font-size="9.6" fill="#222" textLength="55.90" lengthAdjust="spacingAndGlyphs">New Mexico</text>
<circle cx="486.75" cy="479.40" r="3.55" fill="#fdfefd" stroke="#90a994" stroke-width="1.95"/>
<circle cx="420.75" cy="479.40" r="3.65" fill="#fff" stroke="#176a3a" stroke-width="2.1"/>
<text transform="translate(412.85,483.35) scale(1.0,1) rotate(0.05)" font-size="9.4" text-anchor="end" fill="#1d1d26" stroke="#1d1d26" stroke-width="0.22">61</text>
<text transform="translate(493.35,483.35) scale(1.0,1) rotate(0.05)" font-size="9.4" text-anchor="start" fill="#1d1d26" stroke="#1d1d26" stroke-width="0.22">74</text>
<text transform="translate(453.75,483.35) scale(1.0,1) rotate(0.05)" font-size="9.4" text-anchor="middle" fill="#1d1d26" stroke="#1d1d26" stroke-width="0.22">13</text>
<text transform="translate(56.35,495.00) rotate(0.05)" font-size="9.6" fill="#222" textLength="40.40" lengthAdjust="spacingAndGlyphs">New York</text>
<circle cx="566.75" cy="494.40" r="3.55" fill="#fdfefd" stroke="#90a994" stroke-width="1.95"/>
<circle cx="450.75" cy="494.40" r="3.65" fill="#fff" stroke="#176a3a" stroke-width="2.1"/>
<text transform="translate(442.85,498.35) scale(1.0,1) rotate(0.05)" font-size="9.4" text-anchor="end" fill="#1d1d26" stroke="#1d1d26" stroke-width="0.22">67</text>
<text transform="translate(573.35,498.35) scale(1.0,1) rotate(0.05)" font-size="9.4" text-anchor="start" fill="#1d1d26" stroke="#1d1d26" stroke-width="0.22">89</text>
<text transform="translate(508.75,498.35) scale(1.0,1) rotate(0.05)" font-size="9.4" text-anchor="middle" fill="#1d1d26" stroke="#1d1d26" stroke-width="0.22">22</text>
<text transform="translate(29.60,510.00) rotate(0.05)" font-size="9.6" fill="#222" textLength="67.15" lengthAdjust="spacingAndGlyphs">North Carolina</text>
<circle cx="565.25" cy="508.25" r="3.55" fill="#fdfefd" stroke="#90a994" stroke-width="1.95"/>
<circle cx="532.50" cy="508.25" r="3.65" fill="#fff" stroke="#176a3a" stroke-width="2.1"/>
<text transform="translate(524.60,512.20) scale(1.0,1) rotate(0.05)" font-size="9.4" text-anchor="end" fill="#1d1d26" stroke="#1d1d26" stroke-width="0.22">82</text>
<text transform="translate(571.85,512.20) scale(1.0,1) rotate(0.05)" font-size="9.4" text-anchor="start" fill="#1d1d26" stroke="#1d1d26" stroke-width="0.22">88</text>
<text transform="translate(548.88,512.20) scale(1.0,1) rotate(0.05)" font-size="9.4" text-anchor="middle" fill="#1d1d26" stroke="#1d1d26" stroke-width="0.22">6</text>
<text transform="translate(36.35,524.25) rotate(0.05)" font-size="9.6" fill="#222" textLength="60.40" lengthAdjust="spacingAndGlyphs">North Dakota</text>
<circle cx="577.00" cy="522.90" r="3.55" fill="#fdfefd" stroke="#90a994" stroke-width="1.95"/>
<circle cx="500.50" cy="522.90" r="3.65" fill="#fff" stroke="#176a3a" stroke-width="2.1"/>
<text transform="translate(492.60,526.85) scale(1.0,1) rotate(0.05)" font-size="9.4" text-anchor="end" fill="#1d1d26" stroke="#1d1d26" stroke-width="0.22">76</text>
<text transform="translate(583.60,526.85) scale(1.0,1) rotate(0.05)" font-size="9.4" text-anchor="start" fill="#1d1d26" stroke="#1d1d26" stroke-width="0.22">91</text>
<text transform="translate(538.75,526.85) scale(1.0,1) rotate(0.05)" font-size="9.4" text-anchor="middle" fill="#1d1d26" stroke="#1d1d26" stroke-width="0.22">15</text>
<text transform="translate(74.60,539.25) rotate(0.05)" font-size="9.6" fill="#222" textLength="22.15" lengthAdjust="spacingAndGlyphs">Ohio</text>
<circle cx="551.25" cy="537.20" r="3.55" fill="#fdfefd" stroke="#90a994" stroke-width="1.95"/>
<circle cx="414.50" cy="537.20" r="3.65" fill="#fff" stroke="#176a3a" stroke-width="2.1"/>
<text transform="translate(406.60,541.15) scale(1.0,1) rotate(0.05)" font-size="9.4" text-anchor="end" fill="#1d1d26" stroke="#1d1d26" stroke-width="0.22">60</text>
<text transform="translate(557.85,541.15) scale(1.0,1) rotate(0.05)" font-size="9.4" text-anchor="start" fill="#1d1d26" stroke="#1d1d26" stroke-width="0.22">86</text>
<text transform="translate(482.88,541.15) scale(1.0,1) rotate(0.05)" font-size="9.4" text-anchor="middle" fill="#1d1d26" stroke="#1d1d26" stroke-width="0.22">26</text>
<text transform="translate(47.85,554.25) rotate(0.05)" font-size="9.6" fill="#222" textLength="48.90" lengthAdjust="spacingAndGlyphs">Oklahoma</text>
<circle cx="542.75" cy="552.20" r="3.55" fill="#fdfefd" stroke="#90a994" stroke-width="1.95"/>
<circle cx="507.50" cy="552.20" r="3.65" fill="#fff" stroke="#176a3a" stroke-width="2.1"/>
<text transform="translate(499.60,556.15) scale(1.0,1) rotate(0.05)" font-size="9.4" text-anchor="end" fill="#1d1d26" stroke="#1d1d26" stroke-width="0.22">77</text>
<text transform="translate(549.35,556.15) scale(1.0,1) rotate(0.05)" font-size="9.4" text-anchor="start" fill="#1d1d26" stroke="#1d1d26" stroke-width="0.22">84</text>
<text transform="translate(525.12,556.15) scale(1.0,1) rotate(0.05)" font-size="9.4" text-anchor="middle" fill="#1d1d26" stroke="#1d1d26" stroke-width="0.22">7</text>
<text transform="translate(61.60,567.00) rotate(0.05)" font-size="9.6" fill="#222" textLength="35.15" lengthAdjust="spacingAndGlyphs">Oregon</text>
<circle cx="500.25" cy="566.50" r="3.55" fill="#fdfefd" stroke="#90a994" stroke-width="1.95"/>
<circle cx="431.75" cy="566.50" r="3.65" fill="#fff" stroke="#176a3a" stroke-width="2.1"/>
<text transform="translate(423.85,570.45) scale(1.0,1) rotate(0.05)" font-size="9.4" text-anchor="end" fill="#1d1d26" stroke="#1d1d26" stroke-width="0.22">63</text>
<text transform="translate(506.85,570.45) scale(1.0,1) rotate(0.05)" font-size="9.4" text-anchor="start" fill="#1d1d26" stroke="#1d1d26" stroke-width="0.22">76</text>
<text transform="translate(466.00,570.45) scale(1.0,1) rotate(0.05)" font-size="9.4" text-anchor="middle" fill="#1d1d26" stroke="#1d1d26" stroke-width="0.22">13</text>
<text transform="translate(37.10,581.75) rotate(0.05)" font-size="9.6" fill="#222" textLength="59.65" lengthAdjust="spacingAndGlyphs">Pennsylvania</text>
<circle cx="570.00" cy="580.80" r="3.55" fill="#fdfefd" stroke="#90a994" stroke-width="1.95"/>
<circle cx="478.75" cy="580.80" r="3.65" fill="#fff" stroke="#176a3a" stroke-width="2.1"/>
<text transform="translate(470.85,584.75) scale(1.0,1) rotate(0.05)" font-size="9.4" text-anchor="end" fill="#1d1d26" stroke="#1d1d26" stroke-width="0.22">72</text>
<text transform="translate(576.60,584.75) scale(1.0,1) rotate(0.05)" font-size="9.4" text-anchor="start" fill="#1d1d26" stroke="#1d1d26" stroke-width="0.22">89</text>
<text transform="translate(524.38,584.75) scale(1.0,1) rotate(0.05)" font-size="9.4" text-anchor="middle" fill="#1d1d26" stroke="#1d1d26" stroke-width="0.22">18</text>
<text transform="translate(37.10,595.75) rotate(0.05)" font-size="9.6" fill="#222" textLength="59.65" lengthAdjust="spacingAndGlyphs">Rhode Island</text>
<circle cx="555.75" cy="595.65" r="3.55" fill="#fdfefd" stroke="#90a994" stroke-width="1.95"/>
<circle cx="505.50" cy="595.65" r="3.65" fill="#fff" stroke="#176a3a" stroke-width="2.1"/>
<text transform="translate(497.60,599.60) scale(1.0,1) rotate(0.05)" font-size="9.4" text-anchor="end" fill="#1d1d26" stroke="#1d1d26" stroke-width="0.22">77</text>
<text transform="translate(562.35,599.60) scale(1.0,1) rotate(0.05)" font-size="9.4" text-anchor="start" fill="#1d1d26" stroke="#1d1d26" stroke-width="0.22">87</text>
<text transform="translate(530.62,599.60) scale(1.0,1) rotate(0.05)" font-size="9.4" text-anchor="middle" fill="#1d1d26" stroke="#1d1d26" stroke-width="0.22">10</text>
<text transform="translate(28.85,610.75) rotate(0.05)" font-size="9.6" fill="#222" textLength="67.90" lengthAdjust="spacingAndGlyphs">South Carolina</text>
<circle cx="535.25" cy="610.35" r="3.55" fill="#fdfefd" stroke="#90a994" stroke-width="1.95"/>
<circle cx="504.00" cy="610.35" r="3.65" fill="#fff" stroke="#176a3a" stroke-width="2.1"/>
<text transform="translate(496.10,614.30) scale(1.0,1) rotate(0.05)" font-size="9.4" text-anchor="end" fill="#1d1d26" stroke="#1d1d26" stroke-width="0.22">77</text>
<text transform="translate(541.85,614.30) scale(1.0,1) rotate(0.05)" font-size="9.4" text-anchor="start" fill="#1d1d26" stroke="#1d1d26" stroke-width="0.22">83</text>
<text transform="translate(519.62,614.30) scale(1.0,1) rotate(0.05)" font-size="9.4" text-anchor="middle" fill="#1d1d26" stroke="#1d1d26" stroke-width="0.22">6</text>
<text transform="translate(35.10,625.75) rotate(0.05)" font-size="9.6" fill="#222" textLength="61.65" lengthAdjust="spacingAndGlyphs">South Dakota</text>
<circle cx="573.00" cy="624.40" r="3.55" fill="#fdfefd" stroke="#90a994" stroke-width="1.95"/>
<circle cx="478.75" cy="624.40" r="3.65" fill="#fff" stroke="#176a3a" stroke-width="2.1"/>
<text transform="translate(470.85,628.35) scale(1.0,1) rotate(0.05)" font-size="9.4" text-anchor="end" fill="#1d1d26" stroke="#1d1d26" stroke-width="0.22">72</text>
<text transform="translate(579.60,628.35) scale(1.0,1) rotate(0.05)" font-size="9.4" text-anchor="start" fill="#1d1d26" stroke="#1d1d26" stroke-width="0.22">90</text>
<text transform="translate(525.88,628.35) scale(1.0,1) rotate(0.05)" font-size="9.4" text-anchor="middle" fill="#1d1d26" stroke="#1d1d26" stroke-width="0.22">18</text>
<text transform="translate(49.10,640.00) rotate(0.05)" font-size="9.6" fill="#222" textLength="47.65" lengthAdjust="spacingAndGlyphs">Tennessee</text>
<circle cx="578.25" cy="638.90" r="3.55" fill="#fdfefd" stroke="#90a994" stroke-width="1.95"/>
<circle cx="523.50" cy="638.90" r="3.65" fill="#fff" stroke="#176a3a" stroke-width="2.1"/>
<text transform="translate(515.60,642.85) scale(1.0,1) rotate(0.05)" font-size="9.4" text-anchor="end" fill="#1d1d26" stroke="#1d1d26" stroke-width="0.22">81</text>
<text transform="translate(584.85,642.85) scale(1.0,1) rotate(0.05)" font-size="9.4" text-anchor="start" fill="#1d1d26" stroke="#1d1d26" stroke-width="0.22">91</text>
<text transform="translate(550.88,642.85) scale(1.0,1) rotate(0.05)" font-size="9.4" text-anchor="middle" fill="#1d1d26" stroke="#1d1d26" stroke-width="0.22">10</text>
<text transform="translate(72.60,655.00) rotate(0.05)" font-size="9.6" fill="#222" textLength="24.15" lengthAdjust="spacingAndGlyphs">Texas</text>
<circle cx="591.25" cy="653.75" r="3.55" fill="#fdfefd" stroke="#90a994" stroke-width="1.95"/>
<circle cx="548.25" cy="653.75" r="3.65" fill="#fff" stroke="#176a3a" stroke-width="2.1"/>
<text transform="translate(540.35,657.70) scale(1.0,1) rotate(0.05)" font-size="9.4" text-anchor="end" fill="#1d1d26" stroke="#1d1d26" stroke-width="0.22">85</text>
<text transform="translate(597.85,657.70) scale(1.0,1) rotate(0.05)" font-size="9.4" text-anchor="start" fill="#1d1d26" stroke="#1d1d26" stroke-width="0.22">93</text>
<text transform="translate(569.75,657.70) scale(1.0,1) rotate(0.05)" font-size="9.4" text-anchor="middle" fill="#1d1d26" stroke="#1d1d26" stroke-width="0.22">8</text>
<text transform="translate(75.35,670.00) rotate(0.05)" font-size="9.6" fill="#222" textLength="21.40" lengthAdjust="spacingAndGlyphs">Utah</text>
<circle cx="559.75" cy="668.20" r="3.55" fill="#fdfefd" stroke="#90a994" stroke-width="1.95"/>
<circle cx="468.75" cy="668.20" r="3.65" fill="#fff" stroke="#176a3a" stroke-width="2.1"/>
<text transform="translate(460.85,672.15) scale(1.0,1) rotate(0.05)" font-size="9.4" text-anchor="end" fill="#1d1d26" stroke="#1d1d26" stroke-width="0.22">70</text>
<text transform="translate(566.35,672.15) scale(1.0,1) rotate(0.05)" font-size="9.4" text-anchor="start" fill="#1d1d26" stroke="#1d1d26" stroke-width="0.22">87</text>
<text transform="translate(514.25,672.15) scale(1.0,1) rotate(0.05)" font-size="9.4" text-anchor="middle" fill="#1d1d26" stroke="#1d1d26" stroke-width="0.22">17</text>
<text transform="translate(58.35,683.75) rotate(0.05)" font-size="9.6" fill="#222" textLength="38.40" lengthAdjust="spacingAndGlyphs">Vermont</text>
<circle cx="565.50" cy="683.40" r="3.55" fill="#fdfefd" stroke="#90a994" stroke-width="1.95"/>
<circle cx="527.00" cy="683.40" r="3.65" fill="#fff" stroke="#176a3a" stroke-width="2.1"/>
<text transform="translate(519.10,687.35) scale(1.0,1) rotate(0.05)" font-size="9.4" text-anchor="end" fill="#1d1d26" stroke="#1d1d26" stroke-width="0.22">81</text>
<text transform="translate(572.10,687.35) scale(1.0,1) rotate(0.05)" font-size="9.4" text-anchor="start" fill="#1d1d26" stroke="#1d1d26" stroke-width="0.22">89</text>
<text transform="translate(546.25,687.35) scale(1.0,1) rotate(0.05)" font-size="9.4" text-anchor="middle" fill="#1d1d26" stroke="#1d1d26" stroke-width="0.22">8</text>
<text transform="translate(62.10,698.75) rotate(0.05)" font-size="9.6" fill="#222" textLength="34.65" lengthAdjust="spacingAndGlyphs">Virginia</text>
<circle cx="571.00" cy="697.50" r="3.55" fill="#fdfefd" stroke="#90a994" stroke-width="1.95"/>
<circle cx="514.50" cy="697.50" r="3.65" fill="#fff" stroke="#176a3a" stroke-width="2.1"/>
<text transform="translate(506.60,701.45) scale(1.0,1) rotate(0.05)" font-size="9.4" text-anchor="end" fill="#1d1d26" stroke="#1d1d26" stroke-width="0.22">79</text>
<text transform="translate(577.60,701.45) scale(1.0,1) rotate(0.05)" font-size="9.4" text-anchor="start" fill="#1d1d26" stroke="#1d1d26" stroke-width="0.22">90</text>
<text transform="translate(542.75,701.45) scale(1.0,1) rotate(0.05)" font-size="9.4" text-anchor="middle" fill="#1d1d26" stroke="#1d1d26" stroke-width="0.22">11</text>
<text transform="translate(42.85,713.75) rotate(0.05)" font-size="9.6" fill="#222" textLength="53.90" lengthAdjust="spacingAndGlyphs">Washington</text>
<circle cx="526.25" cy="711.55" r="3.55" fill="#fdfefd" stroke="#90a994" stroke-width="1.95"/>
<circle cx="463.00" cy="711.55" r="3.65" fill="#fff" stroke="#176a3a" stroke-width="2.1"/>
<text transform="translate(455.10,715.50) scale(1.0,1) rotate(0.05)" font-size="9.4" text-anchor="end" fill="#1d1d26" stroke="#1d1d26" stroke-width="0.22">69</text>
<text transform="translate(532.85,715.50) scale(1.0,1) rotate(0.05)" font-size="9.4" text-anchor="start" fill="#1d1d26" stroke="#1d1d26" stroke-width="0.22">81</text>
<text transform="translate(494.62,715.50) scale(1.0,1) rotate(0.05)" font-size="9.4" text-anchor="middle" fill="#1d1d26" stroke="#1d1d26" stroke-width="0.22">12</text>
<text transform="translate(39.10,728.00) rotate(0.05)" font-size="9.6" fill="#222" textLength="57.65" lengthAdjust="spacingAndGlyphs">West Virginia</text>
<circle cx="555.25" cy="726.30" r="3.55" fill="#fdfefd" stroke="#90a994" stroke-width="1.95"/>
<circle cx="537.00" cy="726.30" r="3.65" fill="#fff" stroke="#176a3a" stroke-width="2.1"/>
<text transform="translate(529.10,730.25) scale(1.0,1) rotate(0.05)" font-size="9.4" text-anchor="end" fill="#1d1d26" stroke="#1d1d26" stroke-width="0.22">83</text>
<text transform="translate(561.85,730.25) scale(1.0,1) rotate(0.05)" font-size="9.4" text-anchor="start" fill="#1d1d26" stroke="#1d1d26" stroke-width="0.22">87</text>
<text transform="translate(546.12,730.25) scale(1.0,1) rotate(0.05)" font-size="9.4" text-anchor="middle" fill="#1d1d26" stroke="#1d1d26" stroke-width="0.22">4</text>
<text transform="translate(51.60,742.00) rotate(0.05)" font-size="9.6" fill="#222" textLength="45.15" lengthAdjust="spacingAndGlyphs">Wisconsin</text>
<circle cx="588.00" cy="741.40" r="3.55" fill="#fdfefd" stroke="#90a994" stroke-width="1.95"/>
<circle cx="438.00" cy="741.40" r="3.65" fill="#fff" stroke="#176a3a" stroke-width="2.1"/>
<text transform="translate(430.10,745.35) scale(1.0,1) rotate(0.05)" font-size="9.4" text-anchor="end" fill="#1d1d26" stroke="#1d1d26" stroke-width="0.22">64</text>
<text transform="translate(594.60,745.35) scale(1.0,1) rotate(0.05)" font-size="9.4" text-anchor="start" fill="#1d1d26" stroke="#1d1d26" stroke-width="0.22">93</text>
<text transform="translate(513.00,745.35) scale(1.0,1) rotate(0.05)" font-size="9.4" text-anchor="middle" fill="#1d1d26" stroke="#1d1d26" stroke-width="0.22">29</text>
<text transform="translate(54.10,756.25) rotate(0.05)" font-size="9.6" fill="#222" textLength="42.65" lengthAdjust="spacingAndGlyphs">Wyoming</text>
<circle cx="530.25" cy="755.10" r="3.55" fill="#fdfefd" stroke="#90a994" stroke-width="1.95"/>
<circle cx="458.25" cy="755.10" r="3.65" fill="#fff" stroke="#176a3a" stroke-width="2.1"/>
<text transform="translate(450.35,759.05) scale(1.0,1) rotate(0.05)" font-size="9.4" text-anchor="end" fill="#1d1d26" stroke="#1d1d26" stroke-width="0.22">68</text>
<text transform="translate(536.85,759.05) scale(1.0,1) rotate(0.05)" font-size="9.4" text-anchor="start" fill="#1d1d26" stroke="#1d1d26" stroke-width="0.22">82</text>
<text transform="translate(494.25,759.05) scale(1.0,1) rotate(0.05)" font-size="9.4" text-anchor="middle" fill="#1d1d26" stroke="#1d1d26" stroke-width="0.22">14</text>
<line x1="100.70" y1="0" x2="100.70" y2="763.5" stroke="#6e6e6e" stroke-width="1"/>
<line x1="100.20" y1="763" x2="627.00" y2="763" stroke="#929292" stroke-width="1.5"/>
<line x1="100.70" y1="760" x2="100.70" y2="768.3" stroke="#6a6a6a" stroke-width="1"/>
<text transform="translate(100.70,779.60) scale(1.05,1) rotate(0.05)" font-size="9.2" text-anchor="middle" fill="#1d1d26" stroke="#1d1d26" stroke-width="0.22">0</text>
<line x1="153.28" y1="760" x2="153.28" y2="768.3" stroke="#6a6a6a" stroke-width="1"/>
<text transform="translate(153.28,779.60) scale(1.05,1) rotate(0.05)" font-size="9.2" text-anchor="middle" fill="#1d1d26" stroke="#1d1d26" stroke-width="0.22">10</text>
<line x1="205.86" y1="760" x2="205.86" y2="768.3" stroke="#6a6a6a" stroke-width="1"/>
<text transform="translate(205.86,779.60) scale(1.05,1) rotate(0.05)" font-size="9.2" text-anchor="middle" fill="#1d1d26" stroke="#1d1d26" stroke-width="0.22">20</text>
<line x1="258.44" y1="760" x2="258.44" y2="768.3" stroke="#6a6a6a" stroke-width="1"/>
<text transform="translate(258.44,779.60) scale(1.05,1) rotate(0.05)" font-size="9.2" text-anchor="middle" fill="#1d1d26" stroke="#1d1d26" stroke-width="0.22">30</text>
<line x1="311.02" y1="760" x2="311.02" y2="768.3" stroke="#6a6a6a" stroke-width="1"/>
<text transform="translate(311.02,779.60) scale(1.05,1) rotate(0.05)" font-size="9.2" text-anchor="middle" fill="#1d1d26" stroke="#1d1d26" stroke-width="0.22">40</text>
<line x1="363.60" y1="760" x2="363.60" y2="768.3" stroke="#6a6a6a" stroke-width="1"/>
<text transform="translate(363.60,779.60) scale(1.05,1) rotate(0.05)" font-size="9.2" text-anchor="middle" fill="#1d1d26" stroke="#1d1d26" stroke-width="0.22">50</text>
<line x1="416.18" y1="760" x2="416.18" y2="768.3" stroke="#6a6a6a" stroke-width="1"/>
<text transform="translate(416.18,779.60) scale(1.05,1) rotate(0.05)" font-size="9.2" text-anchor="middle" fill="#1d1d26" stroke="#1d1d26" stroke-width="0.22">60</text>
<line x1="468.76" y1="760" x2="468.76" y2="768.3" stroke="#6a6a6a" stroke-width="1"/>
<text transform="translate(468.76,779.60) scale(1.05,1) rotate(0.05)" font-size="9.2" text-anchor="middle" fill="#1d1d26" stroke="#1d1d26" stroke-width="0.22">70</text>
<line x1="521.34" y1="760" x2="521.34" y2="768.3" stroke="#6a6a6a" stroke-width="1"/>
<text transform="translate(521.34,779.60) scale(1.05,1) rotate(0.05)" font-size="9.2" text-anchor="middle" fill="#1d1d26" stroke="#1d1d26" stroke-width="0.22">80</text>
<line x1="573.92" y1="760" x2="573.92" y2="768.3" stroke="#6a6a6a" stroke-width="1"/>
<text transform="translate(573.92,779.60) scale(1.05,1) rotate(0.05)" font-size="9.2" text-anchor="middle" fill="#1d1d26" stroke="#1d1d26" stroke-width="0.22">90</text>
<line x1="626.50" y1="760" x2="626.50" y2="768.3" stroke="#6a6a6a" stroke-width="1"/>
<text transform="translate(626.50,779.60) scale(1.05,1) rotate(0.05)" font-size="9.2" text-anchor="middle" fill="#1d1d26" stroke="#1d1d26" stroke-width="0.22">100</text>
<rect x="0" y="6.4" width="661" height="4" fill="url(#sh)"/>
<rect x="0" y="0" width="661" height="6.6" fill="#32363a"/>
</svg></body></html>
